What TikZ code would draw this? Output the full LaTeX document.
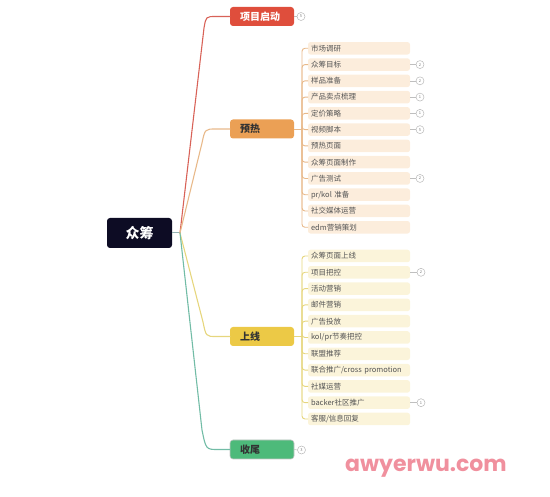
\documentclass[tikz,border=0pt]{standalone}
\usepackage{fontspec}
\setmainfont{Noto Sans CJK SC}
\newfontfamily\wmfont{Poppins}
\definecolor{rootc}{HTML}{0D0C24}
\definecolor{redf}{HTML}{DF4E3C}
\definecolor{redl}{HTML}{D86258}
\definecolor{orf}{HTML}{EBA055}
\definecolor{orl}{HTML}{E8B98A}
\definecolor{yef}{HTML}{ECC946}
\definecolor{yel}{HTML}{E6D67E}
\definecolor{grf}{HTML}{4DBA7A}
\definecolor{grl}{HTML}{72BCA6}
\definecolor{orleaf}{HTML}{FCEDDC}
\definecolor{yeleaf}{HTML}{FBF4DA}
\definecolor{leaftext}{HTML}{555555}
\definecolor{darktext}{HTML}{333333}
\definecolor{wm}{HTML}{F0909E}
\begin{document}
\begin{tikzpicture}[x=1pt,y=-1pt,
  every node/.style={inner sep=0pt, outer sep=0pt},
  rootbox/.style={fill=rootc, rounded corners=3pt, minimum width=65pt, minimum height=30pt, text=white, font=\fontsize{14}{16}\selectfont\bfseries},
  branchbox/.style={rounded corners=3pt, minimum height=19pt, text width=44pt, inner xsep=10pt, align=left, font=\fontsize{10}{12}\selectfont\bfseries},
  leafbox/.style={rounded corners=2.5pt, minimum height=12.5pt, text width=96pt, inner xsep=3pt, align=left, text=leaftext, font=\fontsize{7.5}{8}\selectfont, anchor=west},
  badge/.style={circle, draw=gray!55, fill=white, minimum size=8pt, line width=0.5pt, text=gray, font=\fontsize{4}{4}\selectfont},
  bline/.style={line width=1.1pt, line cap=round},
  cline/.style={line width=0.9pt, rounded corners=3pt},
  badgeline/.style={draw=gray!50, line width=0.5pt}
]
\useasboundingbox (0,0) rectangle (550,497);

% root
\node[rootbox] (root) at (139.5,233) {众筹};
\coordinate (hub) at (180,233);
\draw[line width=1pt, draw=gray!60!teal!60] (root.east) -- (hub);

% branches
\node[branchbox, fill=redf, text=white] (n1) at (262,16.5) {项目启动};
\node[branchbox, fill=orf, text=darktext] (n2) at (262,129) {预热};
\node[branchbox, fill=yef, text=darktext] (n3) at (262,336.5) {上线};
\node[branchbox, fill=grf, text=darktext, draw=gray!45, line width=0.6pt] (n4) at (262,449.5) {收尾};

\draw[bline, draw=redl] (hub) -- (204,28) .. controls (206,16.5) .. (216,16.5) -- (n1.west);
\draw[bline, draw=orl] (hub) -- (202,143) .. controls (205,129) .. (216,129) -- (n2.west);
\draw[bline, draw=yel] (hub) -- (203,322) .. controls (206,336.5) .. (216,336.5) -- (n3.west);
\draw[bline, draw=grl] (hub) -- (202,430) .. controls (206,449.5) .. (218,449.5) -- (n4.west);

\node[badge] (bn1) at (301,16.5) {5};
\draw[badgeline] (n1.east) -- (bn1.west);
\node[badge] (bn4) at (301.5,450) {3};
\draw[badgeline] (n4.east) -- (bn4.west);

% 预热 children
\coordinate (j2) at (302,129);
\draw[cline, draw=orl] (n2.east) -- (j2);
\foreach \t [count=\i] in {市场调研,众筹目标,样品准备,产品卖点梳理,定价策略,视频脚本,预热页面,众筹页面制作,广告测试,pr/kol 准备,社交媒体运营,edm营销策划}{
  \node[leafbox, fill=orleaf] (a\i) at (308,{48.3+16.27*(\i-1)}) {\t};
  \draw[cline, draw=orl] (j2) |- (a\i.west);
}
\foreach \i/\n in {2/2,3/2,4/1,5/1,6/5,9/2}{
  \node[badge] (ba\i) at (420,{48.3+16.27*(\i-1)}) {\n};
  \draw[badgeline] (a\i.east) -- (ba\i.west);
}

% 上线 children
\coordinate (j3) at (302,336.5);
\draw[cline, draw=yel] (n3.east) -- (j3);
\foreach \t [count=\i] in {众筹页面上线,项目把控,活动营销,邮件营销,广告投放,kol/pr节奏把控,联盟推荐,联合推广/cross promotion,社媒运营,backer社区推广,客服/信息回复}{
  \node[leafbox, fill=yeleaf] (b\i) at (308,{256+16.3*(\i-1)}) {\t};
  \draw[cline, draw=yel] (j3) |- (b\i.west);
}
\foreach \i/\n in {2/2,10/1}{
  \node[badge] (bb\i) at (421,{256+16.3*(\i-1)}) {\n};
  \draw[badgeline] (b\i.east) -- (bb\i.west);
}

% watermark
\node[text=wm, font=\wmfont\bfseries\fontsize{22}{26}\selectfont] (wmk) at (426,468) {awyerwu.com};
\end{tikzpicture}
\end{document}
